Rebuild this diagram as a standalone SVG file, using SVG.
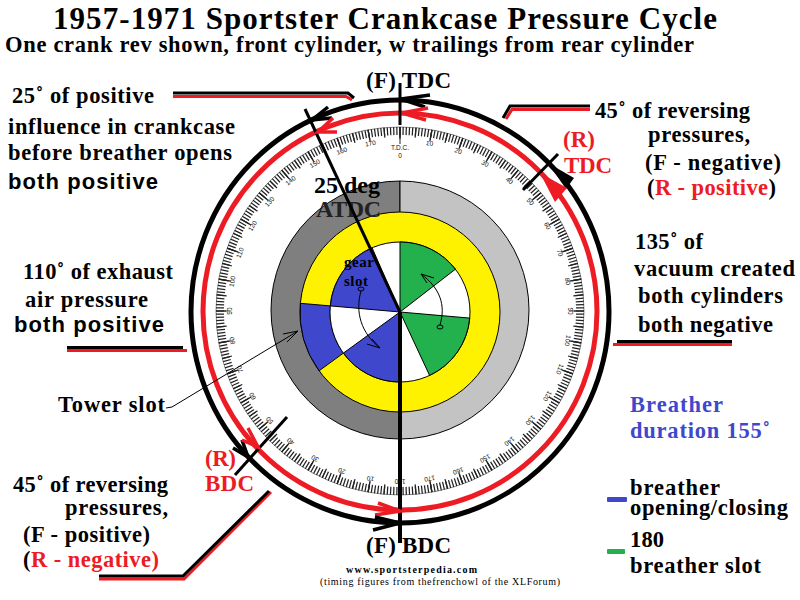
<svg xmlns="http://www.w3.org/2000/svg" width="800" height="600" viewBox="0 0 800 600">
<style>
text{font-family:"Liberation Serif","Times New Roman",serif;font-weight:bold;font-size:22.500px;fill:#000}
.s{font-family:"Liberation Sans",Arial,sans-serif;font-size:22px}
.r{fill:#ed1c24}
.b{fill:#3f48cc}
.t{font-family:"Liberation Sans",Arial,sans-serif;font-size:6.500px;font-weight:normal;fill:#111;text-anchor:middle}
.k{fill:none;stroke:#000;stroke-width:5}
.e{fill:none;stroke:#ed1c24;stroke-width:5}
.h{fill:none;stroke:#000;stroke-width:3.500;stroke-linejoin:miter}
.hr{fill:none;stroke:#ed1c24;stroke-width:3.500;stroke-linejoin:miter}
.thin{fill:none;stroke:#000;stroke-width:1}
.w{stroke:#000;stroke-width:1}
</style>

<g id="protractor">
<circle cx="400" cy="311" r="184" fill="none" stroke="#888" stroke-width="1"/>
<circle cx="400" cy="311" r="180" fill="none" stroke="#222" stroke-width="8" pathLength="360" stroke-dasharray="0.4 0.6" stroke-dashoffset="0.2"/>
<circle cx="400" cy="311" r="179" fill="none" stroke="#222" stroke-width="10" pathLength="360" stroke-dasharray="0.4 4.6" stroke-dashoffset="0.2"/>
<circle cx="400" cy="311" r="178" fill="none" stroke="#222" stroke-width="12" pathLength="360" stroke-dasharray="0.4 9.6" stroke-dashoffset="0.2"/>
<line x1="400" y1="127" x2="400" y2="144" stroke="#222" stroke-width="1"/>
<text class="t" x="400" y="150">T.D.C.</text>
<text class="t" x="400" y="158">0</text>
<text class="t" x="400" y="143" transform="rotate(10 400 311)">10</text>
<text class="t" x="400" y="143" transform="rotate(20 400 311)">20</text>
<text class="t" x="400" y="143" transform="rotate(30 400 311)">30</text>
<text class="t" x="400" y="143" transform="rotate(40 400 311)">40</text>
<text class="t" x="400" y="143" transform="rotate(50 400 311)">50</text>
<text class="t" x="400" y="143" transform="rotate(60 400 311)">60</text>
<text class="t" x="400" y="143" transform="rotate(70 400 311)">70</text>
<text class="t" x="400" y="143" transform="rotate(80 400 311)">80</text>
<text class="t" x="400" y="143" transform="rotate(90 400 311)">90</text>
<text class="t" x="400" y="143" transform="rotate(100 400 311)">100</text>
<text class="t" x="400" y="143" transform="rotate(110 400 311)">110</text>
<text class="t" x="400" y="143" transform="rotate(120 400 311)">120</text>
<text class="t" x="400" y="143" transform="rotate(130 400 311)">130</text>
<text class="t" x="400" y="143" transform="rotate(140 400 311)">140</text>
<text class="t" x="400" y="143" transform="rotate(150 400 311)">150</text>
<text class="t" x="400" y="143" transform="rotate(160 400 311)">160</text>
<text class="t" x="400" y="143" transform="rotate(170 400 311)">170</text>
<text class="t" x="400" y="143" transform="rotate(180 400 311)">180</text>
<text class="t" x="400" y="143" transform="rotate(-170 400 311)">10</text>
<text class="t" x="400" y="143" transform="rotate(-160 400 311)">20</text>
<text class="t" x="400" y="143" transform="rotate(-150 400 311)">30</text>
<text class="t" x="400" y="143" transform="rotate(-140 400 311)">40</text>
<text class="t" x="400" y="143" transform="rotate(-130 400 311)">50</text>
<text class="t" x="400" y="143" transform="rotate(-120 400 311)">60</text>
<text class="t" x="400" y="143" transform="rotate(-110 400 311)">70</text>
<text class="t" x="400" y="143" transform="rotate(-100 400 311)">80</text>
<text class="t" x="400" y="143" transform="rotate(-90 400 311)">90</text>
<text class="t" x="400" y="143" transform="rotate(-80 400 311)">100</text>
<text class="t" x="400" y="143" transform="rotate(-70 400 311)">110</text>
<text class="t" x="400" y="143" transform="rotate(-60 400 311)">120</text>
<text class="t" x="400" y="143" transform="rotate(-50 400 311)">130</text>
<text class="t" x="400" y="143" transform="rotate(-40 400 311)">140</text>
<text class="t" x="400" y="143" transform="rotate(-30 400 311)">150</text>
<text class="t" x="400" y="143" transform="rotate(-20 400 311)">160</text>
<text class="t" x="400" y="143" transform="rotate(-10 400 311)">170</text>
</g>

<g id="rings">
<ellipse class="e" cx="400" cy="311.500" rx="197" ry="198.500"/>
<ellipse class="k" cx="400" cy="311.500" rx="209" ry="211.500"/>
</g>

<g id="tower-disk">
<path class="w" d="M400 181A129 129 0 0 0 400 439Z" fill="#7f7f7f"/>
<path class="w" d="M400 181A129 129 0 0 1 400 439Z" fill="#c3c3c3"/>
</g>
<g id="yellow-ring">
<circle class="w" cx="400" cy="312" r="100" fill="#fff200"/>
<path class="w" d="M319.100 370.800A100 100 0 0 1 300.400 303.300L330.300 305.900A70 70 0 0 0 343.400 353.100Z" fill="#3f48cc"/>
</g>
<g id="breather-wedges">
<circle class="w" cx="400" cy="312" r="70" fill="#fff"/>
<path class="w" d="M400 312V242A70 70 0 0 1 455.400 269.200Z" fill="#22b14c"/>
<path class="w" d="M400 312L469.700 318.100A70 70 0 0 1 429.600 375.400Z" fill="#22b14c"/>
<path class="w" d="M400 312V382A70 70 0 0 1 343.400 353.100Z" fill="#3f48cc"/>
<path class="w" d="M400 312L330.300 305.900A70 70 0 0 1 372.100 247.800Z" fill="#3f48cc"/>
</g>

<g id="labels-inner">
<text x="344" y="267" style="font-size:15px" textLength="30">gear</text>
<text x="344" y="286" style="font-size:15px" textLength="24">slot</text>
<text x="314" y="193" style="font-size:24px" textLength="66">25 deg</text>
<text x="316" y="217" style="font-size:24px;fill:#222" textLength="65">ATDC</text>
</g>

<g id="connectors">
<line x1="400" y1="83" x2="400" y2="125" stroke="#000" stroke-width="3"/>
<line x1="400" y1="312" x2="400" y2="543" stroke="#000" stroke-width="4"/>
<line x1="400" y1="312" x2="305" y2="109" stroke="#000" stroke-width="3"/>
<line x1="523" y1="190" x2="558" y2="154" stroke="#000" stroke-width="3"/>
<line x1="235" y1="475" x2="287" y2="417" stroke="#000" stroke-width="3"/>

<path class="h" d="M430 95L401 99L425 107"/>
<path class="hr" d="M428 108L402 113L426 120"/>
<path class="h" d="M328 107L312 120L332 118"/>
<path class="hr" d="M333 118L318 132L337 132"/>
<path d="M548 163L574 178L566 189Z" fill="#000"/>
<path d="M540 173L567 188L555 202Z" fill="#ed1c24"/>
<path class="h" d="M233 448L248 457L242 440"/>
<path class="hr" d="M242 440L258 447L248 428"/>
<path class="hr" d="M378 503L400 511L375 515"/>
<path class="h" d="M375 517L400 523L373 530"/>

<g id="leaders">
<path d="M173 96.500H346L352 100" fill="none" stroke="#ed1c24" stroke-width="3"/>
<path d="M173 93H348L354 98" fill="none" stroke="#000" stroke-width="3"/>
<path d="M590 109.500H512L506 119" fill="none" stroke="#ed1c24" stroke-width="3"/>
<path d="M590 106H510L503 118" fill="none" stroke="#000" stroke-width="3"/>
<path d="M67 350.500H187" fill="none" stroke="#ed1c24" stroke-width="3"/>
<path d="M67 347.500H183" fill="none" stroke="#000" stroke-width="3"/>
<path d="M613 344.500H732" fill="none" stroke="#ed1c24" stroke-width="3"/>
<path d="M617 341.500H732" fill="none" stroke="#000" stroke-width="3"/>
<path d="M99 579H184L271 492" fill="none" stroke="#ed1c24" stroke-width="3"/>
<path d="M99 576H183L269 491" fill="none" stroke="#000" stroke-width="3"/>
</g>

<path class="thin" d="M166 408L172 407L298 331"/>
<path class="thin" d="M283 334L298 331L287 342"/>
<path class="thin" d="M361 291C355 312 361 333 380 348"/>
<path class="thin" d="M367 344L380 348L372 339"/>
<ellipse class="thin" cx="361" cy="289" rx="3" ry="2"/>
<path class="thin" d="M440 325C446 305 440 288 421 274"/>
<path class="thin" d="M434 278L421 274L427 283"/>
<ellipse class="thin" cx="440" cy="327" rx="3" ry="2"/>
</g>

<g id="title">
<text x="53" y="29" style="font-size:31px" textLength="664">1957-1971 Sportster Crankcase Pressure Cycle</text>
<text x="5" y="52" style="font-size:22.500px" textLength="689">One crank rev shown, front cylinder, w trailings from rear cylinder</text>
</g>

<g id="note-25-positive">
<text x="12" y="103" textLength="142">25˚ of positive</text>
<text x="8" y="134" textLength="227">influence in crankcase</text>
<text x="8" y="160" textLength="224">before breather opens</text>
<text class="s" x="8" y="189" textLength="150">both positive</text>
</g>
<g id="note-110-exhaust">
<text x="23" y="279" textLength="150">110˚ of exhaust</text>
<text x="25" y="307" textLength="123">air pressure</text>
<text class="s" x="14" y="332" textLength="150">both positive</text>
</g>
<g id="note-tower">
<text x="58" y="412" textLength="107">Tower slot</text>
</g>
<g id="note-45-bottom">
<text x="13" y="492" textLength="155">45˚ of reversing</text>
<text x="65" y="515" textLength="103">pressures,</text>
<text x="23" y="542" textLength="127">(F - positive)</text>
<text x="23" y="567" textLength="136"><tspan>(</tspan><tspan class="r">R - negative)</tspan></text>
</g>
<g id="note-45-top">
<text x="595" y="118" textLength="155">45˚ of reversing</text>
<text x="648" y="142" textLength="102">pressures,</text>
<text x="645" y="170" textLength="136">(F - negative)</text>
<text x="647" y="195" textLength="129"><tspan>(</tspan><tspan class="r">R - positive</tspan><tspan>)</tspan></text>
</g>
<g id="note-135-vacuum">
<text x="635" y="249" textLength="68">135˚ of</text>
<text x="634" y="276" textLength="161">vacuum created</text>
<text x="638" y="303" textLength="145">both cylinders</text>
<text x="638" y="332" textLength="135">both negative</text>
</g>
<g id="markers">
<text x="366" y="88" style="font-size:23px" textLength="85">(F) TDC</text>
<text x="366" y="553" style="font-size:23px" textLength="85">(F) BDC</text>
<text class="r" x="563" y="147" style="font-size:23px" textLength="32">(R)</text>
<text class="r" x="564" y="173" style="font-size:23px" textLength="48">TDC</text>
<text class="r" x="205" y="466" style="font-size:23px" textLength="31">(R)</text>
<text class="r" x="205" y="491" style="font-size:23px" textLength="49">BDC</text>
</g>
<g id="legend">
<text class="b" x="630" y="412" textLength="93">Breather</text>
<text class="b" x="630" y="438" textLength="140">duration 155˚</text>
<rect x="607" y="497" width="20" height="5" rx="1" fill="#3f48cc"/>
<text x="630" y="495" textLength="90">breather</text>
<text x="630" y="515" textLength="158">opening/closing</text>
<rect x="607" y="549" width="18" height="5" rx="1" fill="#22b14c"/>
<text x="630" y="547" textLength="34">180</text>
<text x="630" y="573" textLength="131">breather slot</text>
</g>
<g id="credits">
<text x="346" y="573" style="font-size:10px" textLength="131">www.sportsterpedia.com</text>
<text x="320" y="585" style="font-size:10px;font-weight:normal" textLength="240">(timing figures from thefrenchowl of the XLForum)</text>
</g>
</svg>
